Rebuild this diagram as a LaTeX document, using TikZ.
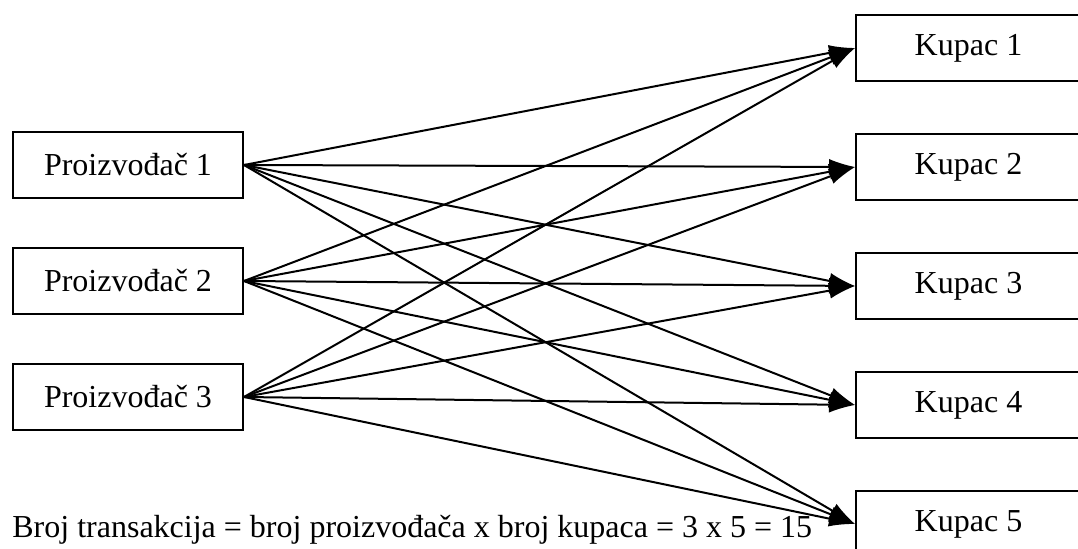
\documentclass[tikz,border=0pt]{standalone}
\usepackage{fontspec}
\setmainfont{Liberation Serif}
\usepackage{tikz}
\usetikzlibrary{arrows.meta, positioning}

\begin{document}
\begin{tikzpicture}[
    x=0.5pt, y=-0.5pt,
    every node/.style={font=\fontsize{16}{19}\selectfont},
    producer/.style={rectangle, draw, line width=1pt, minimum width=115pt, minimum height=33pt, inner sep=0pt},
    buyer/.style={rectangle, draw, line width=1pt, minimum width=112.5pt, minimum height=33pt, inner sep=0pt},
    arrow/.style={-{Latex[length=13pt, width=8pt]}, line width=1pt},
]
\useasboundingbox (0,0) rectangle (1078,549);

\node[producer] (p1) at (128,165) {Proizvođač 1};
\node[producer, below=24pt of p1] (p2) {Proizvođač 2};
\node[producer, below=24pt of p2] (p3) {Proizvođač 3};

\node[buyer] (k1) at (968.5,48) {Kupac 1};
\node[buyer, below=25.5pt of k1] (k2) {Kupac 2};
\node[buyer, below=25.5pt of k2] (k3) {Kupac 3};
\node[buyer, below=25.5pt of k3] (k4) {Kupac 4};
\node[buyer, below=25.5pt of k4] (k5) {Kupac 5};

\draw[arrow] (p1.east) -- (k1.west);
\draw[arrow] (p1.east) -- (k2.west);
\draw[arrow] (p1.east) -- (k3.west);
\draw[arrow] (p1.east) -- (k4.west);
\draw[arrow] (p1.east) -- (k5.west);

\draw[arrow] (p2.east) -- (k1.west);
\draw[arrow] (p2.east) -- (k2.west);
\draw[arrow] (p2.east) -- (k3.west);
\draw[arrow] (p2.east) -- (k4.west);
\draw[arrow] (p2.east) -- (k5.west);

\draw[arrow] (p3.east) -- (k1.west);
\draw[arrow] (p3.east) -- (k2.west);
\draw[arrow] (p3.east) -- (k3.west);
\draw[arrow] (p3.east) -- (k4.west);
\draw[arrow] (p3.east) -- (k5.west);

\node[anchor=base west, inner sep=0pt] (note) at (12,538) {Broj transakcija = broj proizvođača x broj kupaca = 3 x 5 = 15};

\end{tikzpicture}
\end{document}
